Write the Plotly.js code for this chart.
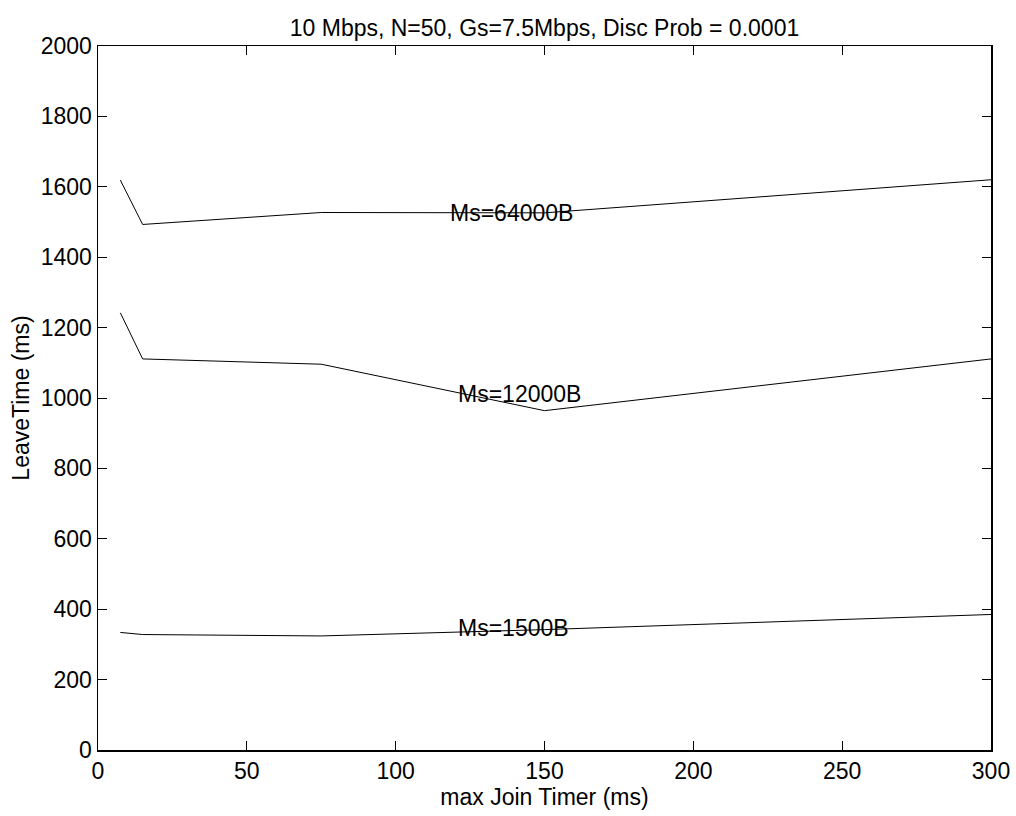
<!DOCTYPE html>
<html>
<head>
<meta charset="utf-8">
<script src="https://cdn.plot.ly/plotly-3.0.1.min.js"></script>
<style>html,body{margin:0;padding:0;background:#fff;}#chart{width:1016px;height:816px;}</style>
</head>
<body>
<div id="chart"></div>
<script>
const joinTimer = [7.5, 15, 75, 150, 300];
const ms64000 = [1619, 1493, 1527, 1526, 1620];
const ms12000 = [1242, 1111, 1096, 964, 1111];
const ms1500 = [334, 328, 324, 342, 385];
const seriesLabels = ['Ms=64000B', 'Ms=12000B', 'Ms=1500B'];
const labelX = [117.5, 120.3, 120.3];
const labelY = [1525, 1011, 346];
const xTicks = [0, 50, 100, 150, 200, 250, 300];
const yTicks = [0, 200, 400, 600, 800, 1000, 1200, 1400, 1600, 1800, 2000];

const allSeries = [ms64000, ms12000, ms1500];
const traces = allSeries.map((ys, i) => ({
  x: joinTimer, y: ys, type: 'scatter', mode: 'lines',
  line: {color: '#000', width: 1}, name: seriesLabels[i], showlegend: false,
  hoverinfo: 'skip'
}));

const font = {family: 'Liberation Sans, Arial, sans-serif', color: '#000'};
const layout = {
  width: 1016, height: 816,
  margin: {l: 98, r: 25, t: 46, b: 66},
  paper_bgcolor: '#fff', plot_bgcolor: '#fff',
  showlegend: false,
  font: Object.assign({size: 23}, font),
  title: {text: '10 Mbps, N=50, Gs=7.5Mbps, Disc Prob = 0.0001',
          font: Object.assign({size: 23}, font),
          x: 0.5, xref: 'paper', y: 1, yref: 'paper', yanchor: 'bottom', pad: {b: 10}},
  xaxis: {
    range: [0, 300], tickvals: xTicks, ticktext: xTicks.map(String),
    ticks: 'inside', ticklen: 9, tickwidth: 1, tickcolor: '#000',
    showline: true, linecolor: '#000', linewidth: 1.5, mirror: 'ticks',
    showgrid: false, zeroline: false,
    tickfont: Object.assign({size: 23}, font),
    title: {text: 'max Join Timer (ms)', font: Object.assign({size: 23}, font), standoff: 0}
  },
  yaxis: {
    range: [0, 2000], tickvals: yTicks, ticktext: yTicks.map(String),
    ticks: 'inside', ticklen: 9, tickwidth: 1, tickcolor: '#000',
    showline: true, linecolor: '#000', linewidth: 1.5, mirror: 'ticks',
    showgrid: false, zeroline: false,
    tickfont: Object.assign({size: 23}, font),
    title: {text: 'LeaveTime (ms)', font: Object.assign({size: 23}, font), standoff: 4}
  },
  annotations: seriesLabels.map((t, i) => ({
    x: labelX[i], y: labelY[i], xref: 'x', yref: 'y', text: t, showarrow: false,
    xanchor: 'left', yanchor: 'middle', font: Object.assign({size: 23}, font)
  }))
};
Plotly.newPlot('chart', traces, layout, {staticPlot: true, displayModeBar: false});
</script>
</body>
</html>
